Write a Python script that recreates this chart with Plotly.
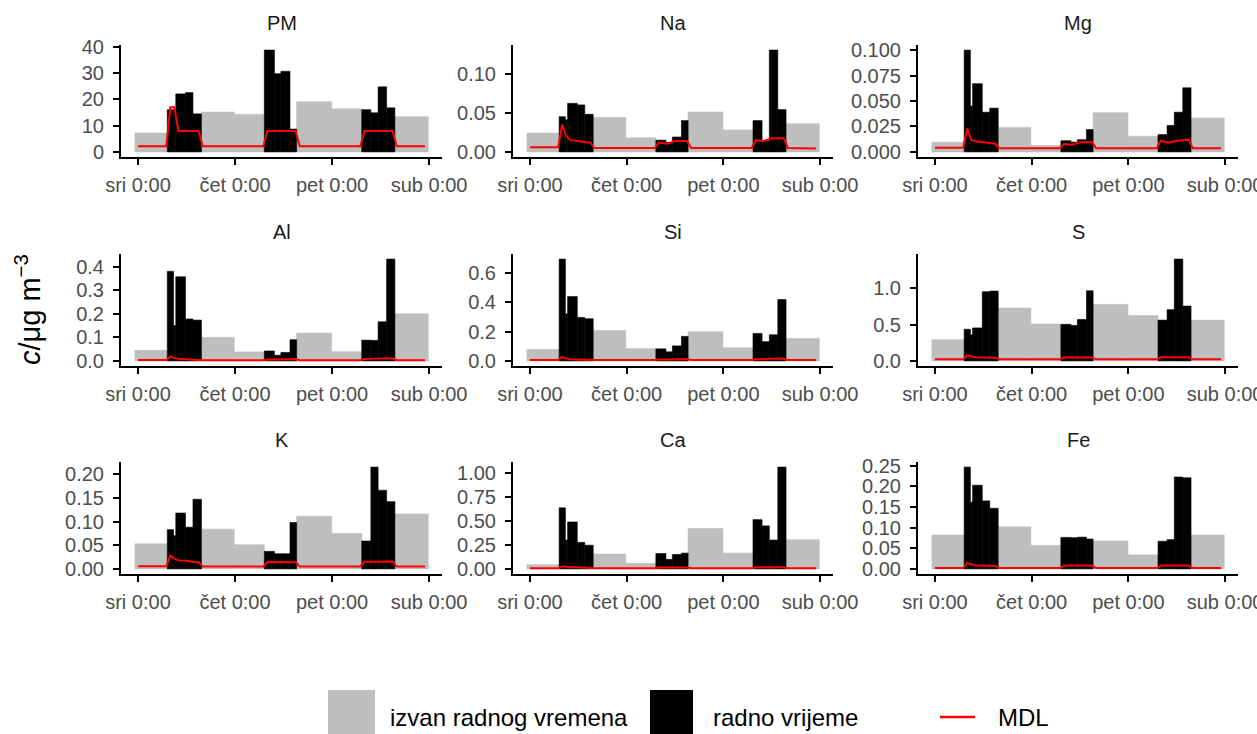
import plotly.graph_objects as go

W, H = 1257, 734

elements = ["PM", "Na", "Mg", "Al", "Si", "S", "K", "Ca", "Fe"]

day_ticks = [0, 24, 48, 72]
day_labels = ["sri 0:00", "čet 0:00", "pet 0:00", "sub 0:00"]

# sampling intervals, hours from Wednesday 0:00
off_start = [-0.75, 15.7, 23.8, 39.25, 47.9, 63.55]
off_end = [7.25, 23.8, 31.25, 47.9, 55.35, 71.8]
work_start = [7.25, 8.8, 9.35, 11.75, 13.6, 31.25, 33.75, 35.35, 37.6, 55.35, 57.6, 59.4, 61.5]
work_end = [8.8, 9.35, 11.75, 13.6, 15.7, 33.75, 35.35, 37.6, 39.25, 57.6, 59.4, 61.5, 63.55]

# outside working hours (izvan radnog vremena)
off_PM = [7.2, 15.2, 14.3, 19.1, 16.4, 13.4]
off_Na = [0.024, 0.044, 0.018, 0.051, 0.028, 0.036]
off_Mg = [0.0096, 0.024, 0.0064, 0.0385, 0.0154, 0.0333]
off_Al = [0.045, 0.10, 0.038, 0.118, 0.039, 0.20]
off_Si = [0.078, 0.207, 0.084, 0.198, 0.089, 0.153]
off_S = [0.293, 0.73, 0.51, 0.78, 0.626, 0.563]
off_K = [0.053, 0.084, 0.051, 0.111, 0.075, 0.116]
off_Ca = [0.044, 0.154, 0.058, 0.42, 0.164, 0.304]
off_Fe = [0.082, 0.102, 0.057, 0.068, 0.034, 0.082]

# working hours (radno vrijeme)
work_PM = [16.1, 16.1, 22.1, 22.6, 14.5, 38.8, 29.8, 30.7, 8.7, 16.1, 14.9, 24.8, 16.8]
work_Na = [0.045, 0.041, 0.062, 0.060, 0.048, 0.015, 0.012, 0.019, 0.040, 0.040, 0.014, 0.130, 0.054]
work_Mg = [0.100, 0.045, 0.067, 0.039, 0.043, 0.011, 0.0096, 0.012, 0.022, 0.017, 0.026, 0.039, 0.063]
work_Al = [0.38, 0.15, 0.357, 0.178, 0.173, 0.042, 0.024, 0.036, 0.09, 0.088, 0.087, 0.166, 0.432]
work_Si = [0.693, 0.32, 0.438, 0.296, 0.287, 0.082, 0.062, 0.102, 0.167, 0.187, 0.131, 0.178, 0.418]
work_S = [0.437, 0.36, 0.455, 0.955, 0.964, 0.505, 0.49, 0.572, 0.968, 0.563, 0.707, 1.405, 0.757]
work_K = [0.083, 0.07, 0.118, 0.088, 0.147, 0.037, 0.032, 0.032, 0.098, 0.059, 0.215, 0.166, 0.142]
work_Ca = [0.635, 0.30, 0.488, 0.276, 0.246, 0.16, 0.099, 0.15, 0.164, 0.512, 0.447, 0.30, 1.058]
work_Fe = [0.247, 0.162, 0.203, 0.165, 0.147, 0.0764, 0.0756, 0.077, 0.0725, 0.067, 0.071, 0.223, 0.221]

# MDL line, read at these hours
mdl_hours = [0, 7, 8, 9, 10, 12, 14, 15, 16, 31, 32, 34, 36, 38, 39, 40, 55, 56, 58, 60, 62, 63, 64, 71]
mdl_PM = [2.2, 2.2, 17, 17, 8, 8, 8, 8, 2.2, 2.2, 8, 8, 8, 8, 8, 2.2, 2.2, 8, 8, 8, 8, 8, 2.2, 2.2]
mdl_Na = [0.006, 0.006, 0.035, 0.02, 0.015, 0.014, 0.012, 0.012, 0.005, 0.005, 0.012, 0.0105, 0.014, 0.014, 0.014, 0.005, 0.005, 0.015, 0.014, 0.0175, 0.0175, 0.0175, 0.005, 0.0045]
mdl_Mg = [0.004, 0.004, 0.023, 0.012, 0.0105, 0.0095, 0.008, 0.008, 0.0035, 0.0035, 0.0078, 0.007, 0.0095, 0.0095, 0.0095, 0.0035, 0.0035, 0.011, 0.009, 0.011, 0.012, 0.012, 0.0035, 0.0035]
mdl_Al = [0.004, 0.004, 0.019, 0.012, 0.009, 0.007, 0.006, 0.006, 0.003, 0.003, 0.006, 0.006, 0.008, 0.008, 0.008, 0.003, 0.003, 0.008, 0.008, 0.009, 0.011, 0.011, 0.003, 0.003]
mdl_Si = [0.007, 0.007, 0.027, 0.016, 0.012, 0.010, 0.009, 0.009, 0.006, 0.006, 0.010, 0.010, 0.012, 0.013, 0.013, 0.006, 0.006, 0.012, 0.012, 0.015, 0.016, 0.016, 0.006, 0.006]
mdl_S = [0.022, 0.022, 0.077, 0.06, 0.05, 0.048, 0.045, 0.045, 0.022, 0.022, 0.05, 0.05, 0.05, 0.048, 0.048, 0.022, 0.022, 0.05, 0.05, 0.05, 0.05, 0.05, 0.022, 0.022]
mdl_K = [0.0055, 0.0055, 0.028, 0.022, 0.018, 0.017, 0.014, 0.014, 0.005, 0.005, 0.0145, 0.0145, 0.014, 0.014, 0.014, 0.005, 0.005, 0.015, 0.015, 0.0155, 0.0155, 0.0155, 0.005, 0.005]
mdl_Ca = [0.007, 0.007, 0.027, 0.02, 0.017, 0.016, 0.014, 0.014, 0.006, 0.006, 0.015, 0.015, 0.015, 0.015, 0.015, 0.006, 0.006, 0.016, 0.016, 0.016, 0.016, 0.016, 0.006, 0.006]
mdl_Fe = [0.002, 0.002, 0.0143, 0.011, 0.008, 0.008, 0.007, 0.007, 0.002, 0.002, 0.008, 0.008, 0.008, 0.008, 0.008, 0.002, 0.002, 0.008, 0.008, 0.008, 0.008, 0.008, 0.002, 0.002]

off_vals = dict(PM=off_PM, Na=off_Na, Mg=off_Mg, Al=off_Al, Si=off_Si, S=off_S, K=off_K, Ca=off_Ca, Fe=off_Fe)
work_vals = dict(PM=work_PM, Na=work_Na, Mg=work_Mg, Al=work_Al, Si=work_Si, S=work_S, K=work_K, Ca=work_Ca, Fe=work_Fe)
mdl_vals = dict(PM=mdl_PM, Na=mdl_Na, Mg=mdl_Mg, Al=mdl_Al, Si=mdl_Si, S=mdl_S, K=mdl_K, Ca=mdl_Ca, Fe=mdl_Fe)

y_dtick = dict(PM=10, Na=0.05, Mg=0.025, Al=0.1, Si=0.2, S=0.5, K=0.05, Ca=0.25, Fe=0.05)
y_fmt = dict(PM="d", Na=".2f", Mg=".3f", Al=".1f", Si=".1f", S=".1f", K=".2f", Ca=".2f", Fe=".2f")

GRAY = "#BEBEBE"
FONT = "Liberation Sans, Arial, sans-serif"
TICKCOL = "#4D4D4D"
TICKSIZE = 20

col_px = [(121, 442), (513, 833), (918, 1238)]
row_px = [(45, 157), (254, 366), (462, 574)]

off_mid = [(a + b) / 2 for a, b in zip(off_start, off_end)]
off_w = [b - a for a, b in zip(off_start, off_end)]
work_mid = [(a + b) / 2 for a, b in zip(work_start, work_end)]
work_w = [b - a for a, b in zip(work_start, work_end)]

fig = go.Figure()
annotations = []
layout_axes = {}

for i, el in enumerate(elements):
    r, c = divmod(i, 3)
    sfx = "" if i == 0 else str(i + 1)
    xa, ya = "x" + sfx, "y" + sfx
    fig.add_trace(go.Bar(x=off_mid, y=off_vals[el], width=off_w, xaxis=xa, yaxis=ya,
                         marker=dict(color=GRAY, line=dict(width=0.6, color=GRAY)),
                         name="izvan radnog vremena", showlegend=False))
    fig.add_trace(go.Bar(x=work_mid, y=work_vals[el], width=work_w, xaxis=xa, yaxis=ya,
                         marker=dict(color="#000000", line=dict(width=0.6, color="#000000")),
                         name="radno vrijeme", showlegend=False))
    fig.add_trace(go.Scatter(x=mdl_hours, y=mdl_vals[el], mode="lines", xaxis=xa, yaxis=ya,
                             line=dict(color="#FF0000", width=2), name="MDL", showlegend=False))
    ymax = max(max(off_vals[el]), max(work_vals[el]), max(mdl_vals[el]))
    x0, x1 = col_px[c]
    t0, t1 = row_px[r]
    layout_axes["xaxis" + sfx] = dict(
        domain=[x0 / W, x1 / W], anchor=ya, range=[-4.2, 75.2], automargin=False,
        ticklabeloverflow="allow",
        tickvals=day_ticks, ticktext=day_labels, showgrid=False, zeroline=False,
        showline=True, linecolor="black", linewidth=2,
        ticks="outside", ticklen=6, tickwidth=1.5, tickcolor="black",
        tickfont=dict(family=FONT, size=TICKSIZE, color=TICKCOL), ticklabelstandoff=3)
    layout_axes["yaxis" + sfx] = dict(
        domain=[1 - t1 / H, 1 - t0 / H], anchor=xa, range=[-0.05 * ymax, 1.05 * ymax],
        automargin=False, ticklabeloverflow="allow",
        tick0=0, dtick=y_dtick[el], tickformat=y_fmt[el], showgrid=False, zeroline=False,
        showline=True, linecolor="black", linewidth=2,
        ticks="outside", ticklen=6, tickwidth=1.5, tickcolor="black",
        tickfont=dict(family=FONT, size=TICKSIZE, color=TICKCOL), ticklabelstandoff=5)
    annotations.append(dict(text=el, xref="paper", yref="paper", x=(x0 + x1) / 2 / W,
                            y=1 - t0 / H, yanchor="bottom", xanchor="center", yshift=9,
                            showarrow=False, font=dict(family=FONT, size=20, color="#1A1A1A")))

# y-axis title
annotations.append(dict(text="<i>c</i>/μg m<sup>−3</sup>", xref="paper", yref="paper",
                        x=28 / W, y=1 - 310 / H, textangle=-90, showarrow=False,
                        xanchor="center", yanchor="middle",
                        font=dict(family=FONT, size=29, color="black")))

# legend (drawn below the panels)
shapes = [
    dict(type="rect", xref="paper", yref="paper", x0=328 / W, x1=375 / W, y0=0, y1=1 - 690 / H,
         fillcolor=GRAY, line=dict(width=0)),
    dict(type="rect", xref="paper", yref="paper", x0=650 / W, x1=693 / W, y0=0, y1=1 - 690 / H,
         fillcolor="black", line=dict(width=0)),
    dict(type="line", xref="paper", yref="paper", x0=940 / W, x1=975 / W, y0=1 - 717 / H,
         y1=1 - 717 / H, line=dict(color="#FF0000", width=2.5)),
]
for txt, px in [("izvan radnog vremena", 388), ("radno vrijeme", 711), ("MDL", 996)]:
    annotations.append(dict(text=txt, xref="paper", yref="paper", x=px / W, y=1 - 717 / H,
                            xanchor="left", yanchor="middle", showarrow=False,
                            font=dict(family=FONT, size=24, color="black")))

fig.update_layout(
    width=W, height=H, autosize=False,
    margin=dict(l=0, r=0, t=0, b=0),
    paper_bgcolor="white", plot_bgcolor="white",
    barmode="overlay", showlegend=False,
    annotations=annotations, shapes=shapes,
    font=dict(family=FONT),
    **layout_axes,
)

fig.write_html("out.html", config={"displayModeBar": False},
               post_script="document.body.style.margin='0';document.body.style.overflow='hidden';")
